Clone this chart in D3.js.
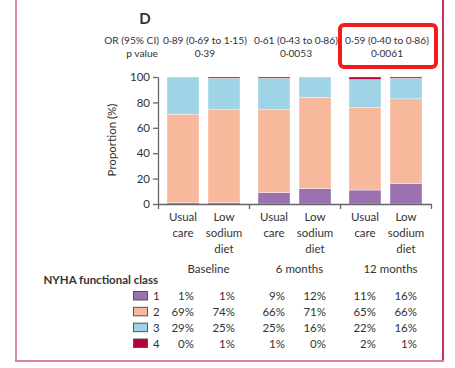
<!DOCTYPE html>
<html>
<head>
<meta charset="utf-8">
<script src="https://cdn.jsdelivr.net/npm/d3@7"></script>
<style>
  body { margin: 0; background: #fff; }
  svg text { font-family: Lato, "Open Sans", sans-serif; fill: #333; }
</style>
</head>
<body>
<div id="wrapper"></div>
<script>
// data
const groups = ["Baseline", "6 months", "12 months"]
const arms = [["Usual", "care"], ["Low", "sodium", "diet"]]
const nyhaClasses = ["1", "2", "3", "4"]
const class1 = [1, 1, 9, 12, 11, 16]
const class2 = [69, 74, 66, 71, 65, 66]
const class3 = [29, 25, 25, 16, 22, 16]
const class4 = [0, 1, 1, 0, 2, 1]
const orLabels = ["0·89 (0·69 to 1·15)", "0·61 (0·43 to 0·86)", "0·59 (0·40 to 0·86)"]
const pLabels = ["0·39", "0·0053", "0·0061"]
const yTicks = [0, 20, 40, 60, 80, 100]

const colors = ["#9b72b0", "#f8b89c", "#9fd4e7", "#b5003c"]

const dimensions = { width: 455, height: 368 }

const svg = d3.select("#wrapper")
  .append("svg")
    .attr("width", dimensions.width)
    .attr("height", dimensions.height)

// panel frame
svg.append("line").attr("x1", 16).attr("x2", 16).attr("y1", 0).attr("y2", 362)
  .attr("stroke", "#df88a8").attr("stroke-width", 2)
svg.append("line").attr("x1", 443).attr("x2", 443).attr("y1", 0).attr("y2", 362)
  .attr("stroke", "#c8345c").attr("stroke-width", 2)
svg.append("line").attr("x1", 15).attr("x2", 444).attr("y1", 361).attr("y2", 361)
  .attr("stroke", "#d9809e").attr("stroke-width", 2)

// table of rows -> one record per bar
const bars = class1.map((d, i) => ({
  group: groups[Math.floor(i / 2)],
  arm: i % 2,
  c1: class1[i], c2: class2[i], c3: class3[i], c4: class4[i]
}))

// scales
const xGroup = d3.scaleBand()
  .domain(groups)
  .range([158, 431])
const xArm = d3.scaleBand()
  .domain([0, 1])
  .range([0, xGroup.bandwidth()])
  .paddingInner(9 / 41)
  .paddingOuter(9 / 41)
const y = d3.scaleLinear()
  .domain([0, 1])
  .range([204, 77])
const barX = d => xGroup(d.group) + xArm(d.arm)

const stack = d3.stack()
  .keys(["c1", "c2", "c3", "c4"])
  .offset(d3.stackOffsetExpand)
const series = stack(bars)

svg.append("g")
  .selectAll("g")
  .data(series)
  .join("g")
    .attr("fill", (d, i) => colors[i])
  .selectAll("rect")
  .data(d => d)
  .join("rect")
    .attr("x", d => barX(d.data))
    .attr("width", xArm.bandwidth())
    .attr("y", d => y(d[1]))
    .attr("height", d => y(d[0]) - y(d[1]))
    .attr("stroke", "#fff")
    .attr("stroke-opacity", 0.6)
    .attr("stroke-width", 0.6)

// axes
svg.append("g")
  .attr("transform", "translate(158,0)")
  .call(d3.axisLeft(y.copy().domain([0, 100]))
    .tickValues(yTicks)
    .tickSize(5)
    .tickSizeOuter(0)
    .tickPadding(3))
  .call(g => g.selectAll("path, line").attr("stroke", "#666").attr("stroke-width", 1.3))
  .call(g => g.selectAll("text").attr("font-size", 11.5).attr("fill", "#333")
    .style("font-family", "Lato, sans-serif"))

const xEdge = d3.scaleLinear().domain([0, groups.length]).range(xGroup.range())
svg.append("g")
  .attr("transform", "translate(0,204)")
  .call(d3.axisBottom(xEdge)
    .tickValues(d3.range(groups.length + 1))
    .tickFormat("")
    .tickSize(5)
    .tickSizeOuter(0))
  .call(g => g.selectAll("path, line").attr("stroke", "#666").attr("stroke-width", 1.3))

svg.append("text")
  .attr("transform", "translate(116,140) rotate(-90)")
  .attr("text-anchor", "middle")
  .attr("font-size", 11.5)
  .text("Proportion (%)")

// arm labels
const armLabels = svg.append("g")
  .selectAll("text")
  .data(bars)
  .join("text")
    .attr("x", d => barX(d) + xArm.bandwidth() / 2)
    .attr("y", 221)
    .attr("text-anchor", "middle")
    .attr("font-size", 11.5)
armLabels.selectAll("tspan")
  .data(d => arms[d.arm])
  .join("tspan")
    .attr("x", function () { return this.parentNode.getAttribute("x") })
    .attr("dy", (d, i) => i === 0 ? 0 : 16)
    .text(d => d)

svg.append("g")
  .selectAll("text")
  .data(groups)
  .join("text")
    .attr("x", d => xGroup(d) + xGroup.bandwidth() / 2 + 5)
    .attr("y", 273)
    .attr("text-anchor", "middle")
    .attr("font-size", 11.5)
    .text(d => d)

// header
svg.append("text")
  .attr("x", 145).attr("y", 24)
  .attr("text-anchor", "middle")
  .attr("font-size", 15).attr("font-weight", "bold")
  .text("D")
svg.append("text")
  .attr("x", 159).attr("y", 44)
  .attr("text-anchor", "end").attr("font-size", 10.2)
  .text("OR (95% CI)")
svg.append("text")
  .attr("x", 158).attr("y", 57)
  .attr("text-anchor", "end").attr("font-size", 10.2)
  .text("p value")
svg.append("g")
  .selectAll("text")
  .data(orLabels)
  .join("text")
    .attr("x", (d, i) => xGroup(groups[i]) + xGroup.bandwidth() / 2 + 1.5)
    .attr("y", 44)
    .attr("text-anchor", "middle").attr("font-size", 10.2)
    .text(d => d)
svg.append("g")
  .selectAll("text")
  .data(pLabels)
  .join("text")
    .attr("x", (d, i) => xGroup(groups[i]) + xGroup.bandwidth() / 2 + 1.5)
    .attr("y", 57)
    .attr("text-anchor", "middle").attr("font-size", 10.2)
    .text(d => d)

// highlight box
svg.append("rect")
  .attr("x", 340).attr("y", 25)
  .attr("width", 96).attr("height", 42)
  .attr("rx", 4)
  .attr("fill", "none")
  .attr("stroke", "#f31c1c")
  .attr("stroke-width", 4)

// legend table
svg.append("text")
  .attr("x", 158).attr("y", 284)
  .attr("text-anchor", "end")
  .attr("font-size", 11.5).attr("font-weight", "bold")
  .attr("fill", "#222")
  .text("NYHA functional class")

const rowY = d3.scalePoint().domain(nyhaClasses).range([296, 343.5])
const classValues = [class1, class2, class3, class4]

const rows = svg.append("g")
  .selectAll("g")
  .data(nyhaClasses)
  .join("g")
    .attr("transform", d => `translate(0,${rowY(d)})`)
rows.append("rect")
  .attr("x", 133.5).attr("y", -4.5)
  .attr("width", 14).attr("height", 8.5)
  .attr("fill", (d, i) => colors[i])
  .attr("stroke", "#555").attr("stroke-width", 1)
rows.append("text")
  .attr("x", 153).attr("y", 4)
  .attr("font-size", 11.5)
  .text(d => d)
rows.selectAll("text.pct")
  .data((d, i) => classValues[i].map((v, j) => ({ v, bar: bars[j] })))
  .join("text")
    .attr("class", "pct")
    .attr("x", d => barX(d.bar) + xArm.bandwidth() - 5)
    .attr("y", 4)
    .attr("text-anchor", "end")
    .attr("font-size", 11.5)
    .text(d => `${d.v}%`)
</script>
</body>
</html>
